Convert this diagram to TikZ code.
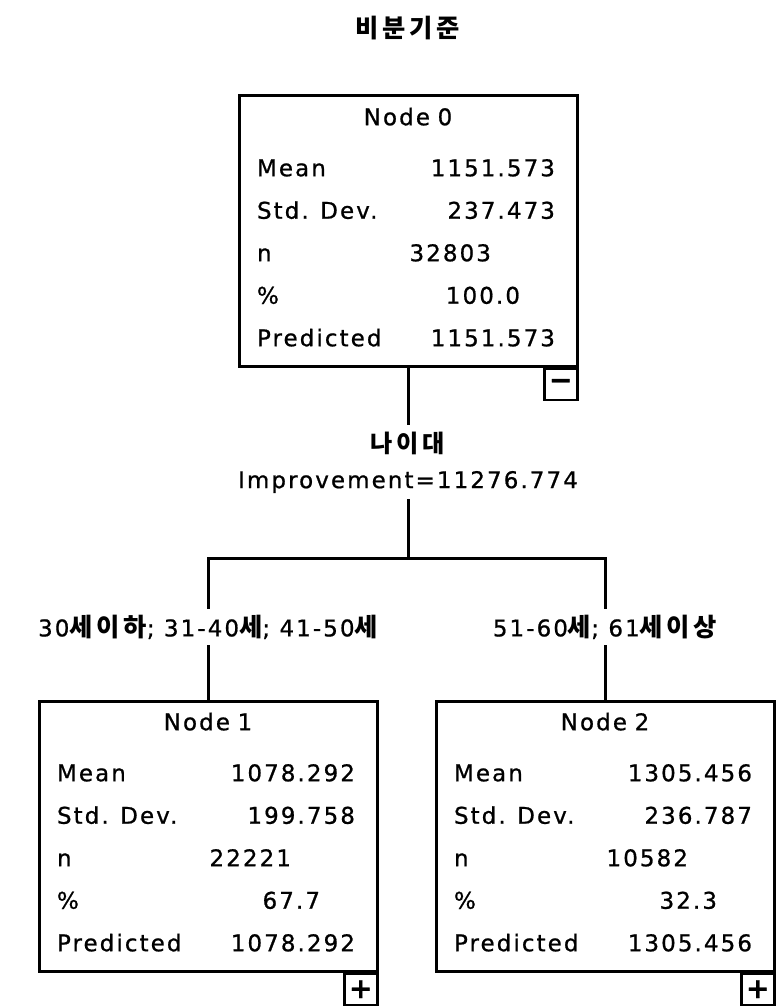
\documentclass[tikz,border=0pt]{standalone}
\usepackage{fontspec}
\setmainfont{DejaVu Sans}[LetterSpace=9, FakeBold=0.8]
\newfontfamily\kr{Noto Sans CJK KR}[LetterSpace=15, Scale=1.1]
\usetikzlibrary{positioning}

\newcommand\statrow[3]{\makebox[302pt][l]{#1\hfill #2\hspace*{#3pt}}}
\newcommand\stattitle[1]{\makebox[302pt][c]{#1}}

\begin{document}
\begin{tikzpicture}[
  x=1pt, y=-1pt,
  statbox/.style={draw, line width=3pt, inner xsep=18pt, inner ysep=0pt, text width=302pt,
                  minimum height=270pt, align=left, text depth=229pt,
                  font=\fontsize{23}{42.5}\selectfont},
  btn/.style={draw, line width=2.5pt, minimum width=33pt, minimum height=31pt, inner sep=0pt,
              anchor=north east, fill=white, font=\fontsize{28}{28}\selectfont\bfseries},
  edge/.style={line width=3pt},
  lbl/.style={font=\fontsize{23}{26}\selectfont, inner sep=6pt}
]
  \useasboundingbox (0,0) rectangle (776,1006);

  % Title
  \node[font=\kr\bfseries\fontsize{23}{26}\selectfont] (title) at (408,28) {비분기준};

  % Three tree nodes
  \node[statbox] (n0) at (408,231) {
    \stattitle{Node 0}\\[8.5pt]
    \statrow{Mean}{1151.573}{4}\\
    \statrow{Std. Dev.}{237.473}{4}\\
    \statrow{n}{32803}{68}\\
    \statrow{\%}{100.0}{39}\\
    \statrow{Predicted}{1151.573}{4}
  };
  \node[statbox] (n1) at (208,836) {
    \stattitle{Node 1}\\[8.5pt]
    \statrow{Mean}{1078.292}{4}\\
    \statrow{Std. Dev.}{199.758}{4}\\
    \statrow{n}{22221}{68}\\
    \statrow{\%}{67.7}{39}\\
    \statrow{Predicted}{1078.292}{4}
  };
  \node[statbox] (n2) at (605,836) {
    \stattitle{Node 2}\\[8.5pt]
    \statrow{Mean}{1305.456}{4}\\
    \statrow{Std. Dev.}{236.787}{4}\\
    \statrow{n}{10582}{68}\\
    \statrow{\%}{32.3}{39}\\
    \statrow{Predicted}{1305.456}{4}
  };

  % Expand / collapse buttons
  \node[btn] (b0) at (n0.south east) {−};
  \node[btn] (b1) at (n1.south east) {+};
  \node[btn] (b2) at (n2.south east) {+};

  % Split labels
  \node[lbl, font=\kr\bfseries\fontsize{22}{26}\selectfont] (var) at (408,443) {나이대};
  \node[lbl] (imp) at (408,482) {Improvement=11276.774};
  \node[lbl] (lab1) at (208,627) {30{\kr\bfseries 세이하}; 31-40{\kr\bfseries 세}; 41-50{\kr\bfseries 세}};
  \node[lbl] (lab2) at (605,627) {51-60{\kr\bfseries 세}; 61{\kr\bfseries 세이상}};
  \coordinate (fork) at (408,558);

  % Connectors
  \draw[edge] (n0.south) -- (var.north);
  \draw[edge] (imp.south) -- (fork);
  \draw[edge] (lab1.north) |- (fork) -| (lab2.north);
  \draw[edge] (lab1.south) -- (lab1.south |- n1.north);
  \draw[edge] (lab2.south) -- (lab2.south |- n2.north);
\end{tikzpicture}
\end{document}
